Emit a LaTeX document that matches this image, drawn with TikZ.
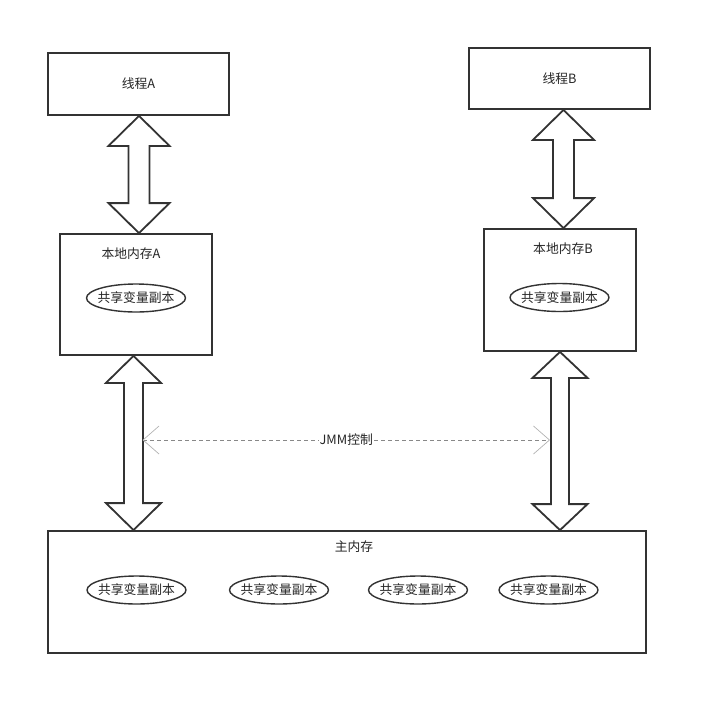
\documentclass[tikz,border=0pt]{standalone}
\usepackage{fontspec}
\setmainfont{Noto Sans CJK SC}
\usetikzlibrary{arrows.meta,calc,shapes.geometric}
\definecolor{linec}{HTML}{333333}
\definecolor{dashc}{HTML}{888888}
\newcommand\dblarrow[5]{%
  \draw[blockarrow] let \p1=(#1), \p2=(#2) in
    (\x1,\y1) -- (\x1+#3pt,\y1-#5pt) -- (\x1+#4pt,\y1-#5pt) -- (\x1+#4pt,\y2+#5pt)
    -- (\x1+#3pt,\y2+#5pt) -- (\x1,\y2) -- (\x1-#3pt,\y2+#5pt) -- (\x1-#4pt,\y2+#5pt)
    -- (\x1-#4pt,\y1-#5pt) -- (\x1-#3pt,\y1-#5pt) -- cycle;}
\begin{document}
\begin{tikzpicture}[x=1pt,y=-1pt,
  font=\fontsize{12.8pt}{14pt}\selectfont,
  box/.style={draw=linec,line width=1.8pt,fill=white,inner sep=0pt},
  copy/.style={draw=linec,line width=1.4pt,ellipse,minimum width=99pt,minimum height=28pt,inner sep=0pt,
    label={[inner sep=0pt,text=black!85]center:共享变量副本}},
  blockarrow/.style={draw=linec,line width=1.8pt,fill=white,line join=miter},
  lbl/.style={inner sep=1pt,text=black!85}]
\useasboundingbox (0,0) rectangle (712,715);
% boxes
\node[box,minimum width=181pt,minimum height=62pt] (ta) at (138.5,84) {};
\node[lbl] at (ta.center) {线程A};
\node[box,minimum width=181pt,minimum height=61pt] (tb) at (559.5,78.5) {};
\node[lbl] at (tb.center) {线程B};
\node[box,minimum width=152pt,minimum height=121pt] (la) at (136,294.5) {};
\node[lbl] at (131,254) {本地内存A};
\node[box,minimum width=152pt,minimum height=122pt] (lb) at (560,290) {};
\node[lbl] at (563,249) {本地内存B};
\node[box,minimum width=598pt,minimum height=122pt] (mm) at (347,592) {};
\node[lbl] at (354,547) {主内存};
% ellipses
\node[copy] (ca) at (136,298) {};
\node[copy] (cb) at (559.5,297.5) {};
\node[copy] (m1) at (136.5,590) {};
\node[copy] (m2) at (279,590) {};
\node[copy] (m3) at (418,590) {};
\node[copy] (m4) at (548.5,590) {};
% block arrows
\coordinate (a1t) at (139,0 |- ta.south);
\coordinate (a1b) at (139,0 |- la.north);
\coordinate (a2t) at (133.5,0 |- la.south);
\coordinate (a2b) at (133.5,0 |- mm.north);
\coordinate (b1t) at (563.5,0 |- tb.south);
\coordinate (b1b) at (563.5,0 |- lb.north);
\coordinate (b2t) at (560,0 |- lb.south);
\coordinate (b2b) at (560,0 |- mm.north);
\dblarrow{a1t}{a1b}{30.5}{10.5}{30}
\dblarrow{a2t}{a2b}{27.5}{9.5}{27}
\dblarrow{b1t}{b1b}{30.5}{10.5}{30}
\dblarrow{b2t}{b2b}{27.5}{9}{26}
% JMM control
\coordinate (jl) at (142.5,440);
\coordinate (jr) at (550,440);
\draw[dashc,line width=0.8pt,dash pattern=on 4pt off 3pt,
  {Straight Barb[length=16pt,width=28pt,line width=0.7pt,color=gray!60]}-{Straight Barb[length=16pt,width=28pt,line width=0.7pt,color=gray!60]}]
  (jl) -- node[fill=white,inner sep=1pt,text=black!85] {JMM控制} (jr);
\end{tikzpicture}
\end{document}
